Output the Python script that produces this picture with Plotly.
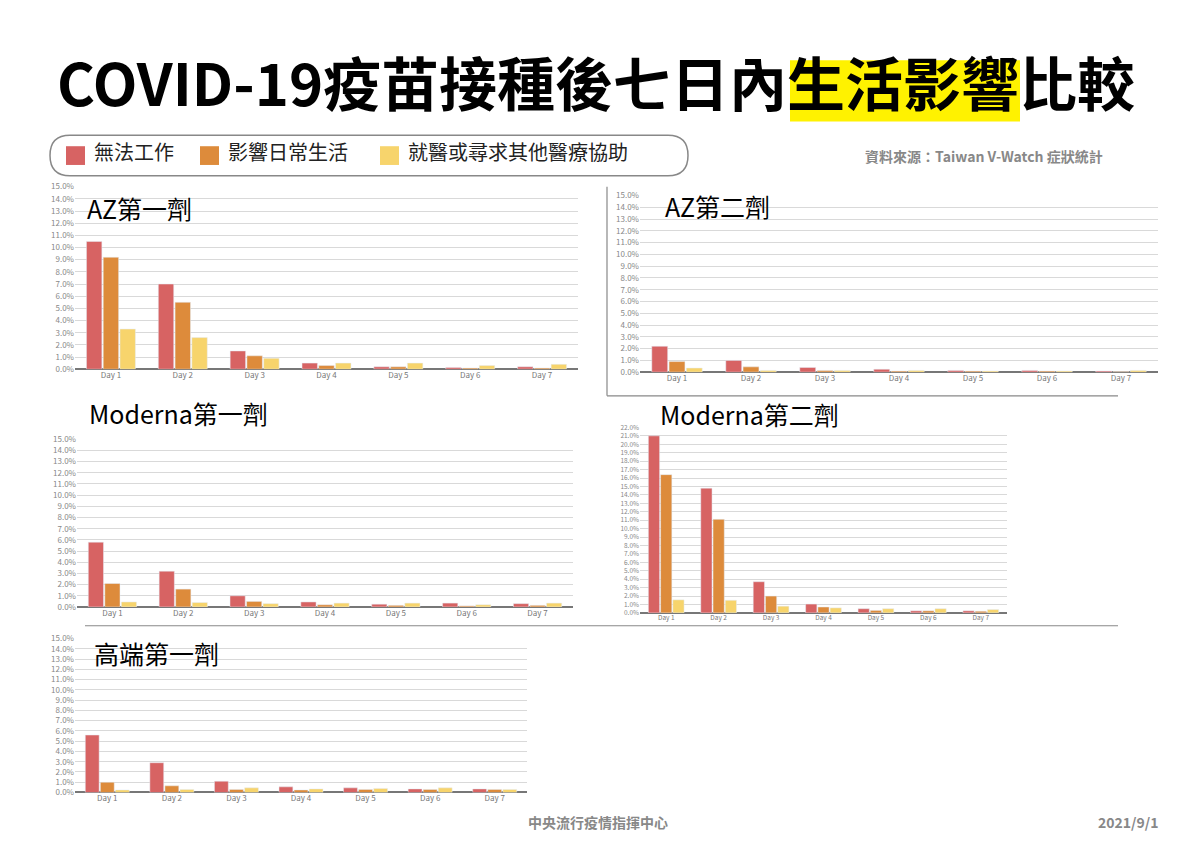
import plotly.graph_objects as go

W, H = 1192, 842
OFF = 8
PW, PH = W - 2 * OFF, H - 2 * OFF

days = ["Day 1", "Day 2", "Day 3", "Day 4", "Day 5", "Day 6", "Day 7"]
series_names = ["無法工作", "影響日常生活", "就醫或尋求其他醫療協助"]
colors = ["#d76363", "#dd8b3b", "#f7d46c"]

az1_red = [10.5, 7.0, 1.5, 0.5, 0.2, 0.15, 0.2]
az1_org = [9.2, 5.5, 1.1, 0.3, 0.2, 0.1, 0.1]
az1_yel = [3.3, 2.6, 0.9, 0.5, 0.5, 0.3, 0.4]
az2_red = [2.2, 1.0, 0.4, 0.25, 0.15, 0.15, 0.1]
az2_org = [0.9, 0.45, 0.15, 0.1, 0.1, 0.1, 0.05]
az2_yel = [0.35, 0.15, 0.15, 0.15, 0.1, 0.1, 0.15]
m1_red = [5.8, 3.2, 1.0, 0.45, 0.25, 0.35, 0.3]
m1_org = [2.1, 1.6, 0.5, 0.2, 0.15, 0.1, 0.15]
m1_yel = [0.45, 0.4, 0.3, 0.35, 0.35, 0.2, 0.35]
m2_red = [21.0, 14.8, 3.7, 1.05, 0.5, 0.25, 0.25]
m2_org = [16.4, 11.1, 2.0, 0.7, 0.3, 0.25, 0.2]
m2_yel = [1.55, 1.5, 0.8, 0.6, 0.5, 0.5, 0.4]
mv_red = [5.6, 2.9, 1.1, 0.55, 0.45, 0.35, 0.35]
mv_org = [1.0, 0.65, 0.3, 0.25, 0.3, 0.3, 0.3]
mv_yel = [0.25, 0.3, 0.45, 0.35, 0.4, 0.45, 0.3]


def fx(x):
    return (x - OFF) / PW


def fy(y):
    return 1 - (y - OFF) / PH


panels = [
    ("AZ第一劑", [az1_red, az1_org, az1_yel], (75, 578), (183, 368), 15, (85, 205), 8),
    ("AZ第二劑", [az2_red, az2_org, az2_yel], (640, 1158), (192, 371), 15, (663, 203), 8),
    ("Moderna第一劑", [m1_red, m1_org, m1_yel], (77, 573), (439, 609), 15, (87, 412), 8),
    ("Moderna第二劑", [m2_red, m2_org, m2_yel], (640, 1007), (427, 615), 22, (658, 413), 6.5),
    ("高端第一劑", [mv_red, mv_org, mv_yel], (75, 527), (641, 797), 15, (92, 656), 8),
]

fig = go.Figure()
anns = []
for i, (name, data, xr, yr, ymax, tpos, fs) in enumerate(panels):
    k = "" if i == 0 else str(i + 1)
    for j, vals in enumerate(data):
        fig.add_trace(go.Bar(x=days, y=vals, name=series_names[j], marker_color=colors[j],
                             xaxis="x" + k, yaxis="y" + k, showlegend=False,
                             hovertemplate="%{y:.1f}%"))
    fig.layout["xaxis" + k] = dict(domain=[fx(xr[0]), fx(xr[1])], anchor="y" + k,
                                   tickfont=dict(size=fs, color="#777"), showgrid=False,
                                   showline=False, ticks="", fixedrange=True)
    fig.layout["yaxis" + k] = dict(domain=[fy(yr[1]), fy(yr[0])], anchor="x" + k,
                                   range=[0, ymax], dtick=1, ticksuffix="%", tickformat=".1f",
                                   tickfont=dict(size=fs, color="#888"), gridcolor="#d9d9d9",
                                   zeroline=True, zerolinecolor="#777", zerolinewidth=1.5,
                                   fixedrange=True)
    anns.append(dict(text=name, x=fx(tpos[0]), y=fy(tpos[1]), xref="paper", yref="paper",
                     xanchor="left", yanchor="middle", showarrow=False,
                     font=dict(size=25, color="#000", family="Noto Sans CJK TC")))

anns += [
    dict(text="<b>COVID-19疫苗接種後七日內生活影響比較</b>", x=fx(596), y=fy(76), xref="paper",
         yref="paper", xanchor="center", yanchor="middle", showarrow=False,
         font=dict(size=58, color="#000", family="Noto Sans CJK TC")),
    dict(text="<b>資料來源：Taiwan V-Watch 症狀統計</b>", x=fx(1105), y=fy(152), xref="paper",
         yref="paper", xanchor="right", yanchor="middle", showarrow=False,
         font=dict(size=14, color="#888")),
    dict(text="<b>中央流行疫情指揮中心</b>", x=fx(598), y=fy(827), xref="paper", yref="paper",
         xanchor="center", yanchor="middle", showarrow=False, font=dict(size=14, color="#888")),
    dict(text="<b>2021/9/1</b>", x=fx(1160), y=fy(827), xref="paper", yref="paper",
         xanchor="right", yanchor="middle", showarrow=False, font=dict(size=14, color="#888")),
]

shapes = []
shapes.append(dict(type="rect", xref="paper", yref="paper", x0=fx(790), y0=fy(117), x1=fx(1020),
                   y1=fy(55), fillcolor="#fff200", line_width=0, layer="below"))
L, R, T, B, rr = 50, 688, 131, 172, 20
shapes.append(dict(type="path", xref="paper", yref="paper",
                   path=(f"M {fx(L+rr)} {fy(T)} L {fx(R-rr)} {fy(T)} Q {fx(R)} {fy(T)} {fx(R)} {fy((T+B)/2)} "
                         f"Q {fx(R)} {fy(B)} {fx(R-rr)} {fy(B)} L {fx(L+rr)} {fy(B)} "
                         f"Q {fx(L)} {fy(B)} {fx(L)} {fy((T+B)/2)} Q {fx(L)} {fy(T)} {fx(L+rr)} {fy(T)} Z"),
                   line=dict(color="#888", width=1.5), fillcolor="rgba(0,0,0,0)"))
leg_sq = [66, 200, 380]
for j, name in enumerate(series_names):
    shapes.append(dict(type="rect", xref="paper", yref="paper", x0=fx(leg_sq[j]), x1=fx(leg_sq[j] + 19),
                       y0=fy(161), y1=fy(142), fillcolor=colors[j], line_width=0))
    anns.append(dict(text=name, x=fx(leg_sq[j] + 26), y=fy(147), xref="paper", yref="paper",
                     xanchor="left", yanchor="middle", showarrow=False,
                     font=dict(size=20, color="#222", family="Noto Sans CJK TC")))

for (a, b, c, d) in [(607, 183, 607, 395), (607, 395, 1118, 395), (85, 628, 1118, 628)]:
    shapes.append(dict(type="line", xref="paper", yref="paper", x0=fx(a), y0=fy(b), x1=fx(c), y1=fy(d),
                       line=dict(color="#888", width=1.2)))

fig.update_layout(
    width=PW, height=PH, margin=dict(l=0, r=0, t=0, b=0),
    paper_bgcolor="white", plot_bgcolor="white",
    font=dict(family="Noto Sans CJK TC"),
    barmode="group", bargap=0.3, bargroupgap=0.08,
    annotations=anns, shapes=shapes, showlegend=False,
)
fig.write_html("out.html")
